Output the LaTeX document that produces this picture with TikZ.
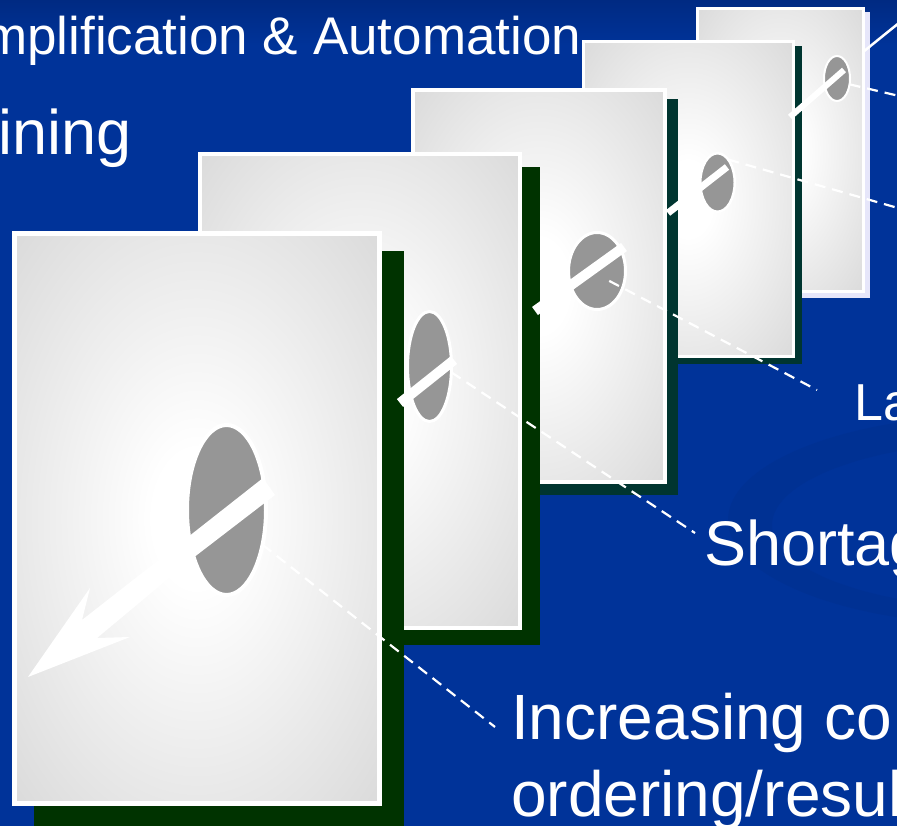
\documentclass[tikz,border=0pt]{standalone}
\usepackage{fontspec}
\setmainfont{Liberation Sans}
\usetikzlibrary{shapes.geometric,calc}

\definecolor{bgblue}{HTML}{003399}
\definecolor{bgtop}{HTML}{002A82}
\definecolor{swirl}{HTML}{003193}
\definecolor{panelgray}{HTML}{DADADA}
\definecolor{blobgray}{HTML}{969696}
\definecolor{shgreen}{HTML}{003300}
\definecolor{shteal}{HTML}{003530}
\definecolor{shlav}{HTML}{E6E6FA}

\pgfdeclareradialshading{panelshade}{\pgfpoint{0bp}{0bp}}{color(0bp)=(white); color(6bp)=(white); color(36bp)=(panelgray); color(50bp)=(panelgray)}

\tikzset{
  panel/.style={rectangle, draw=white, shade, shading=panelshade, inner sep=0pt, outer sep=0pt},
  blob/.style={ellipse, draw=white, fill=blobgray, inner sep=0pt, outer sep=0pt},
  bar/.style={white, line cap=butt},
  leader/.style={white, line width=2.2pt, dash pattern=on 11pt off 7pt},
  caption/.style={white, inner sep=0pt, anchor=base west},
}

\begin{document}
\begin{tikzpicture}[x=1pt, y=-1pt]
% page and background
\useasboundingbox (0,0) rectangle (897,826);
\clip (0,0) rectangle (897,826);
\fill[bgblue] (0,0) rectangle (897,826);
\shade[top color=bgtop, bottom color=bgblue] (0,0) rectangle (897,45);
\fill[swirl, even odd rule] (1000,520) ellipse [x radius=272, y radius=105]
  (1012,525) ellipse [x radius=240, y radius=84];

% the panels, back to front, each with its shadow
\foreach \n/\cx/\cy/\w/\h/\dx/\dy/\sh/\lw in {
    5/780/150.5/166/283/5/5/shlav/3,
    4/688/199/210/314/7/6/shteal/3,
    3/539/286/252/392/11/11/shteal/4,
    2/360/391/320/474/18/15/shgreen/4.5,
    1/196.5/518.5/365/569/22/20/shgreen/5}
{
  \fill[\sh] (\cx-\w/2-\lw/2+\dx, \cy-\h/2-\lw/2+\dy) rectangle +(\w+\lw, \h+\lw);
  \node[panel, line width=\lw*1pt, minimum width=\w*1pt, minimum height=\h*1pt] (p\n) at (\cx,\cy) {};
}

% the grey discs
\node[blob, line width=4pt, minimum width=79pt, minimum height=170pt] (e1) at (226.5,510) {};
\node[blob, line width=3pt, minimum width=44pt, minimum height=110pt] (e2) at (429.5,366.5) {};
\node[blob, line width=3pt, minimum width=57pt, minimum height=77pt] (e3) at (597,271) {};
\node[blob, line width=2.5pt, minimum width=34.5pt, minimum height=58.5pt] (e4) at (717.5,182.5) {};
\node[blob, line width=2pt, minimum width=26pt, minimum height=45pt] (e5) at (837,78.5) {};

% white bars through the discs
\draw[bar, line width=10pt] (400,403) -- (454,360);
\draw[bar, line width=10pt] (535,311) -- (624,247);
\draw[bar, line width=7pt] (668,213) -- (727,167);
\draw[bar, line width=6pt] (790,117) -- (844,70);

% the arrow on the front panel
\fill[white] (263,478) -- (275,495) -- (193,558) -- (97,638) -- (130,637)
  -- (28,677) -- (90,588) -- (82,620) -- (188,537) -- cycle;

% labels
\node[caption, font=\fontsize{53}{63}\selectfont] (simp) at (-17,55) {mplification \& Automation};
\node[caption, font=\fontsize{63}{75}\selectfont] (train) at (-2,155) {ining};
\node[caption, font=\fontsize{52}{62}\selectfont] (lack) at (854,420) {La};
\node[caption, font=\fontsize{63}{76}\selectfont] (short) at (704,565) {Shortag};
\node[caption, font=\fontsize{64}{77}\selectfont] (inc) at (511,739) {Increasing co};
\node[caption, font=\fontsize{64}{77}\selectfont] (order) at ([yshift=-77pt]inc.base west) {ordering/resul};

% leader lines
\coordinate (la end) at (817,390);
\coordinate (sh end) at (695,533);
\coordinate (inc end) at (495,727);
\coordinate (e4 end) at (912,212);
\coordinate (e5 end) at (912,99);
\coordinate (top end) at (915,10);

\draw[leader] (e1.-44) -- (inc end);
\draw[leader] (e2.-15) -- (sh end);
\draw[leader] ($(e3.center)!0.5!(e3.-39)$) -- (la end);
\draw[leader] (e4.65) -- (e4 end);
\draw[leader] (e5.-25) -- (e5 end);
\draw[white, line width=2.5pt] ($(p5.north east)+(0,43)$) -- (top end);

\end{tikzpicture}
\end{document}
